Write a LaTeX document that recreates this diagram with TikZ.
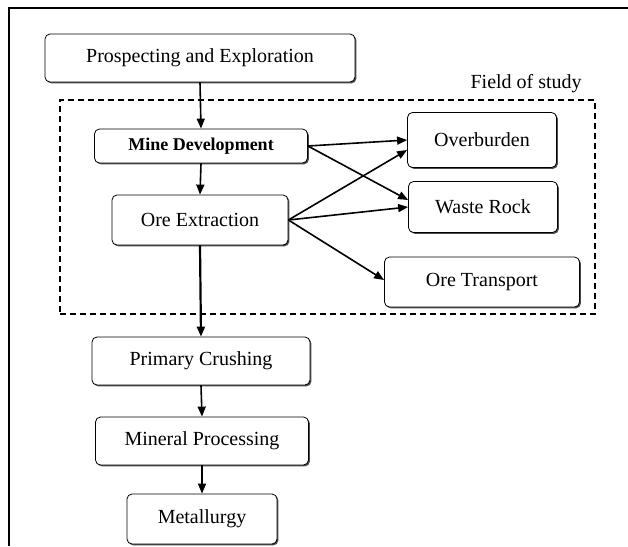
\documentclass[tikz,border=0pt]{standalone}
\usepackage{fontspec}
\setmainfont{Liberation Serif}
\usetikzlibrary{arrows.meta,positioning,shadows}
\tikzstyle{stage}=[draw,line width=0.8pt,rounded corners=5pt,fill=white,minimum height=48pt,
  drop shadow={shadow xshift=1.4pt,shadow yshift=-1.4pt,opacity=1,fill=black!70},
  font=\fontsize{20}{24}\selectfont]
\tikzstyle{arrow}=[line width=1.6pt,->,>={Triangle[length=10pt,width=8pt]},draw=black]

\begin{document}
\begin{tikzpicture}[x=1pt,y=-1pt]
    \useasboundingbox (0,0) rectangle (628,546);
    \draw[line width=1.3pt] (628,8) -- (9,8) -- (9,546);

    \node[draw,dashed,line width=1.8pt,dash pattern=on 6pt off 4pt,
      minimum width=535pt,minimum height=214pt] (field) at (327.5,207) {};
    \node[above left=4pt and 12pt of field.north east,inner sep=2pt,
      font=\fontsize{20}{24}\selectfont] (fieldlabel) {Field of study};

    \node[stage,minimum width=310pt] (explore) at (200,58) {Prospecting and Exploration};
    \node[stage,minimum width=213pt,minimum height=34pt,
      font=\fontsize{18}{22}\selectfont\bfseries] (develop) at (201,146) {Mine Development};
    \node[stage,minimum width=176pt,minimum height=50pt] (extract) at (200,220) {Ore Extraction};
    \node[stage,minimum width=149pt,minimum height=55pt] (overburden) at (482,140) {Overburden};
    \node[stage,minimum width=149pt,minimum height=51pt] (waste) at (483,207) {Waste Rock};
    \node[stage,minimum width=195pt,minimum height=50pt] (transport) at (482,282) {Ore Transport};
    \node[stage,minimum width=218pt] (crush) at (201,361) {Primary Crushing};
    \node[stage,minimum width=213pt] (process) at (202,441) {Mineral Processing};
    \node[stage,minimum width=150pt,minimum height=50pt] (metal) at (202,519) {Metallurgy};

    \draw[arrow] (explore.south) -- (develop.north);
    \draw[arrow] (develop.south) -- (extract.north);
    \draw[arrow] (develop.east) -- (overburden.west);
    \draw[arrow] (develop.east) -- ([yshift=7pt]waste.west);
    \draw[arrow] (extract.east) -- ([yshift=-10pt]overburden.west);
    \draw[arrow] (extract.east) -- (waste.west);
    \draw[arrow] (extract.east) -- ([yshift=2pt]transport.west);
    \draw[arrow,line width=2.2pt] (extract.south) -- (crush.north);
    \draw[arrow] (crush.south) -- (process.north);
    \draw[arrow] (process.south) -- (metal.north);
\end{tikzpicture}
\end{document}
